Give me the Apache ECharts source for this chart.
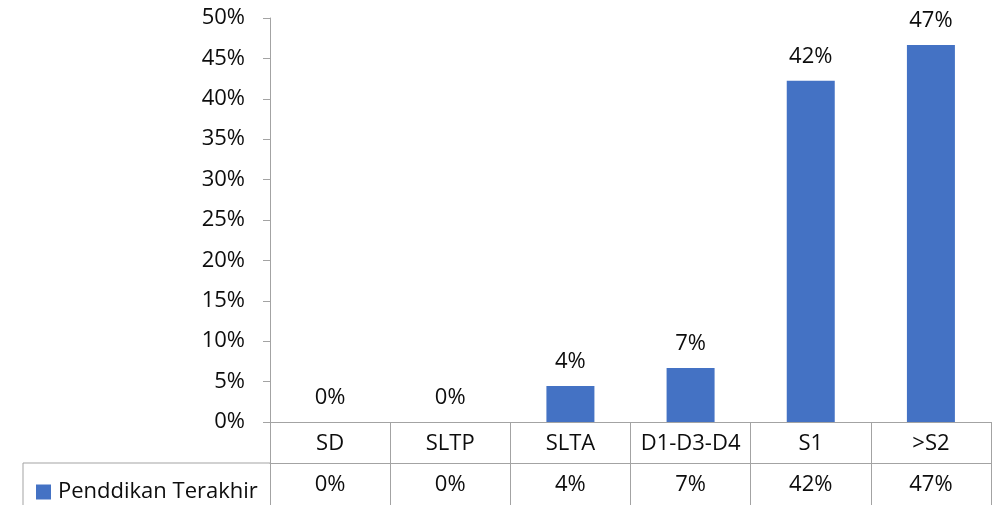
<!DOCTYPE html>
<html>
<head>
<meta charset="utf-8">
<script src="https://cdn.jsdelivr.net/npm/echarts@6/dist/echarts.min.js"></script>
<style>
  html, body { margin: 0; padding: 0; background: #fff; }
  #chart { width: 995px; height: 505px; }
</style>
</head>
<body>
<div id="chart"></div>
<script>
// Education level categories and share of respondents (%)
const categories = ['SD', 'SLTP', 'SLTA', 'D1-D3-D4', 'S1', '>S2'];
const seriesName = 'Penddikan Terakhir';
const shares = [0, 0, 4.44, 6.67, 42.22, 46.67];
const yTicks = { min: 0, max: 50, step: 5 };

const FONT = '"Open Sans", "Noto Sans", sans-serif';
const FS = 22;
const LINE = '#a3a3a3';
const TEXT = '#0d0d0d';
const pct = v => Math.round(v) + '%';

const chart = echarts.init(document.getElementById('chart'));

chart.setOption({
  animation: false,
  backgroundColor: '#fff',
  textStyle: { fontFamily: FONT },
  grid: { left: 270, right: 4, top: 18, bottom: 83, containLabel: false },
  legend: {
    data: [seriesName],
    left: 31, top: 476,
    icon: 'rect', itemWidth: 15, itemHeight: 15,
    selectedMode: false,
    textStyle: { fontFamily: FONT, fontSize: FS, color: TEXT, padding: [0, 0, 0, 2] }
  },
  xAxis: [
    {
      type: 'category',
      data: categories,
      axisLine: { show: true, lineStyle: { color: LINE, width: 1 } },
      axisTick: { show: true, interval: 0, length: 83, lineStyle: { color: LINE } },
      axisLabel: { interval: 0, margin: 11, fontFamily: FONT, fontSize: FS, color: TEXT }
    },
    {
      // data-table row with the formatted values
      type: 'category',
      position: 'bottom',
      offset: 41,
      data: shares.map(pct),
      axisLine: { show: true, lineStyle: { color: LINE, width: 1 } },
      axisTick: { show: false },
      axisLabel: { interval: 0, margin: 11, fontFamily: FONT, fontSize: FS, color: TEXT }
    }
  ],
  yAxis: {
    type: 'value',
    min: yTicks.min, max: yTicks.max, interval: yTicks.step,
    splitLine: { show: false },
    axisLine: { show: true, lineStyle: { color: LINE, width: 1 } },
    axisTick: { show: true, length: 7, lineStyle: { color: LINE } },
    axisLabel: { margin: 25, fontFamily: FONT, fontSize: FS, color: TEXT, formatter: '{value}%' }
  },
  series: [{
    name: seriesName,
    type: 'bar',
    xAxisIndex: 0,
    data: shares,
    barWidth: 48,
    itemStyle: { color: '#4472C4' },
    label: {
      show: true, position: 'top', distance: 13,
      fontFamily: FONT, fontSize: FS, color: TEXT,
      formatter: p => pct(p.value)
    }
  }]
});

// Legend cell of the data table: extends the row line and closes it on the left
const y0 = chart.convertToPixel({ yAxisIndex: 0 }, 0);
const rowTop = y0 + 41;
const leftX = chart.convertToPixel({ xAxisIndex: 0 }, 0) - 60.1;
chart.setOption({
  graphic: [
    { type: 'line', shape: { x1: 23, y1: rowTop, x2: leftX, y2: rowTop }, style: { stroke: LINE, lineWidth: 1 }, silent: true },
    { type: 'line', shape: { x1: 23, y1: rowTop, x2: 23, y2: 505 }, style: { stroke: LINE, lineWidth: 1 }, silent: true }
  ]
});
</script>
</body>
</html>
